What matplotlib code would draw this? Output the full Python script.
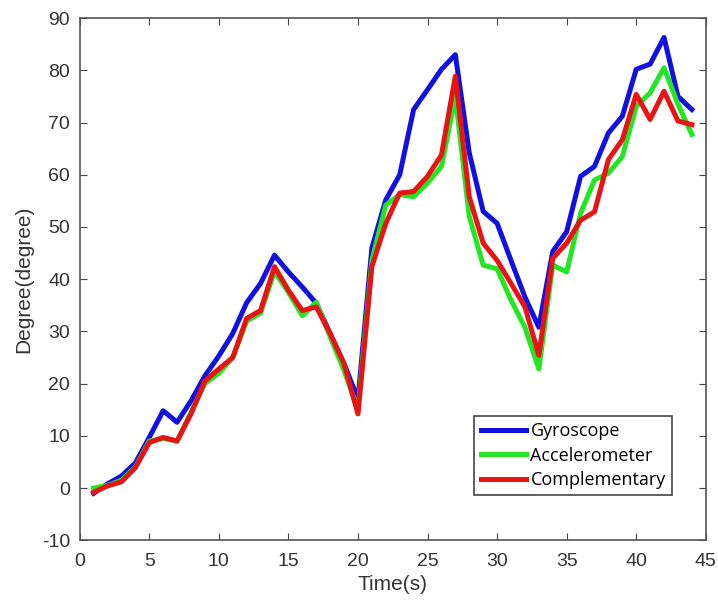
import matplotlib
matplotlib.use("Agg")
import matplotlib.pyplot as plt
import numpy as np

plt.rcParams['font.family'] = ['Liberation Sans', 'DejaVu Sans']
plt.rcParams['axes.unicode_minus'] = False

time_s = list(range(1, 45))
gyroscope = [-1, 0.8, 2.3, 4.8, 9.7, 14.8, 12.6, 16.7, 21.5, 25.3, 29.6, 35.5, 39.2, 44.6,
             41.4, 38.5, 35.4, 29.6, 23.8, 17, 46, 55.2, 60, 72.5, 76.3, 80.2, 83, 64.2,
             53, 50.7, 43.6, 36.6, 30.8, 45.3, 49.1, 59.7, 61.6, 68, 71.2, 80.2, 81.2,
             86.3, 75, 72.5]
accelerometer = [0, 0.5, 1.5, 4, 9, 9.5, 9, 14.5, 20, 22, 25, 32, 33.5, 41.5, 37.5, 33,
                 35.6, 29, 22.5, 15, 43.6, 54.2, 56.2, 55.8, 58.4, 61.6, 75, 52, 42.7, 42,
                 36, 30.8, 22.8, 42.7, 41.4, 52.6, 59, 60.3, 63.5, 73.1, 75.7, 80.5, 73.5,
                 67.7]
complementary = [-0.8, 0.4, 1.2, 3.9, 8.7, 9.7, 9.0, 14.2, 20.5, 22.8, 25, 32.5, 34, 42.4,
                 37.9, 34, 34.7, 29.6, 23.8, 14.2, 42.4, 50.7, 56.5, 56.8, 59.7, 63.8, 78.9,
                 55.8, 46.9, 43.6, 39.2, 34.7, 25.4, 44, 46.9, 51.3, 52.9, 62.9, 66.7, 75.4,
                 70.6, 76, 70.3, 69.6]
x_ticks = [0, 5, 10, 15, 20, 25, 30, 35, 40, 45]
y_ticks = [-10, 0, 10, 20, 30, 40, 50, 60, 70, 80, 90]

fig = plt.figure(figsize=(7.18, 6.05), dpi=100)
ax = fig.add_axes([0.111, 0.107, 0.872, 0.863])

lw = 3.6
ax.plot(time_s, gyroscope, color='#1010e0', lw=lw, label='Gyroscope')
ax.plot(time_s, accelerometer, color='#22e622', lw=lw, label='Accelerometer')
ax.plot(time_s, complementary, color='#e81414', lw=lw, label='Complementary')

ax.set_xlim(0, 45)
ax.set_ylim(-10, 90)
ax.set_xticks(x_ticks)
ax.set_yticks(y_ticks)
ax.tick_params(direction='in', top=True, right=True, labelsize=14, length=5,
               color='#444444', labelcolor='#333333')
ax.tick_params(axis='x', pad=9)
ax.tick_params(axis='y', pad=7)
for s in ax.spines.values():
    s.set_color('#555555')
    s.set_linewidth(1.2)
ax.set_xlabel('Time(s)', fontsize=15, color='#333333', labelpad=4)
ax.set_ylabel('Degree(degree)', fontsize=15, color='#333333', labelpad=6)

leg = ax.legend(loc='lower right', bbox_to_anchor=(0.946, 0.086), borderaxespad=0,
                handlelength=2.5, handletextpad=0.25, borderpad=0.35, labelspacing=0.35,
                fancybox=False, framealpha=1, edgecolor='#444444',
                prop={'family': 'Open Sans', 'size': 13})
leg.get_frame().set_linewidth(1.2)

fig.savefig('out.png', dpi=100)
